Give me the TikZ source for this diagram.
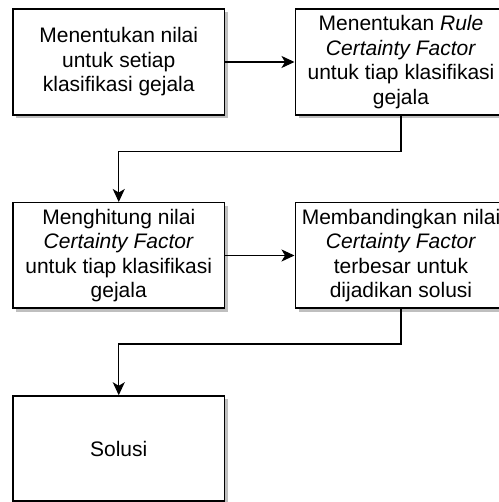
\documentclass[tikz,border=0pt]{standalone}
\usepackage{fontspec}
\setmainfont{Liberation Sans}
\usetikzlibrary{arrows.meta,shadows}
\begin{document}
\begin{tikzpicture}[x=1bp,y=1bp,
  box/.style={draw=black, line width=1.5bp, fill=white,
    minimum width=211.5bp, minimum height=106bp, inner sep=0pt,
    align=center, font=\fontsize{21bp}{24.5bp}\selectfont,
    drop shadow={shadow xshift=3.5bp, shadow yshift=-3.5bp, fill=black!25, opacity=1}},
  conn/.style={draw=black, line width=1.3bp,
    -{Stealth[length=13bp,width=12bp,inset=3.5bp]}}]
\useasboundingbox (0,0) rectangle (499,502);
\clip (0,0) rectangle (499,502);
\fill[white] (0,0) rectangle (499,502);
\node[box] (b1) at (118.75,440) {Menentukan nilai\\untuk setiap\\klasifikasi gejala};
\node[box] (b2) at (401,440) {Menentukan \textit{Rule}\\\textit{Certainty Factor}\\untuk tiap klasifikasi\\gejala};
\node[box, minimum height=105.5bp] (b3) at (118.75,246.5) {Menghitung nilai\\\textit{Certainty Factor}\\untuk tiap klasifikasi\\gejala};
\node[box, minimum height=105.5bp] (b4) at (401,246.5) {Membandingkan nilai\\\textit{Certainty Factor}\\terbesar untuk\\dijadikan solusi};
\node[box, minimum height=105bp] (b5) at (118.75,53.5) {Solusi};
\draw[conn] (b1) -- (b2);
\draw[conn] (b3) -- (b4);
\draw[conn] (b2.south) -- ++(0,-36) -| (b3.north);
\draw[conn] (b4.south) -- ++(0,-35) -| (b5.north);
\end{tikzpicture}
\end{document}
